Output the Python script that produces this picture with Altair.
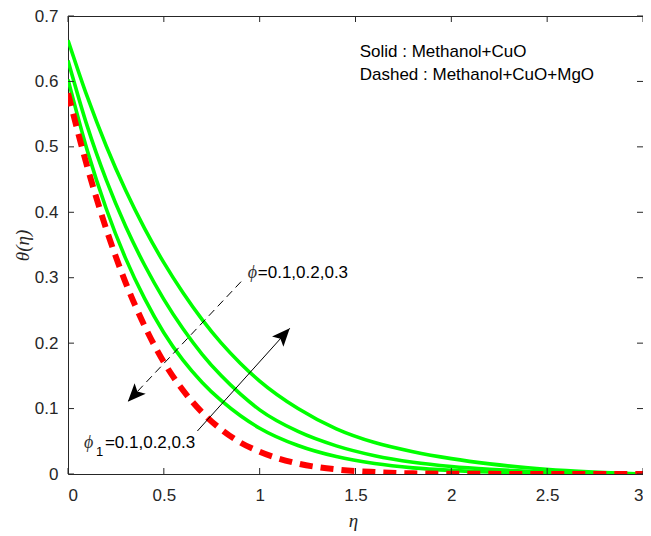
import math
import altair as alt
import pandas as pd

# ---------------- data ----------------
ETA = [0.0, 0.1, 0.2, 0.3, 0.4, 0.5, 0.6, 0.7, 0.8, 0.9, 1.0,
       1.2, 1.4, 1.6, 1.8, 2.0, 2.2, 2.4, 2.6, 2.8, 3.0]
# solid green curves (Methanol+CuO), phi1 = 0.1, 0.2, 0.3
G_TOP = [0.663, 0.577, 0.501, 0.434, 0.375, 0.323, 0.277, 0.236, 0.200, 0.169, 0.142,
         0.100, 0.069, 0.048, 0.034, 0.0235, 0.0155, 0.0095, 0.0052, 0.0022, 0.0]
G_MID = [0.632, 0.532, 0.449, 0.379, 0.319, 0.267, 0.222, 0.183, 0.150, 0.122, 0.098,
         0.065, 0.043, 0.028, 0.018, 0.0115, 0.0072, 0.0042, 0.0022, 0.0009, 0.0]
G_LOW = [0.603, 0.495, 0.405, 0.330, 0.268, 0.216, 0.174, 0.140, 0.112, 0.089, 0.070,
         0.0435, 0.0266, 0.016, 0.0094, 0.0055, 0.003, 0.0017, 0.0008, 0.0003, 0.0]
# dashed red curve (Methanol+CuO+MgO)
RED = [0.582, 0.470, 0.374, 0.293, 0.226, 0.171, 0.128, 0.094, 0.068, 0.048, 0.034,
       0.016, 0.007, 0.003, 0.001, 0.0004, 0.0002, 0.0001, 0.0, 0.0, 0.0]

X_TICKS = [0, 0.5, 1, 1.5, 2, 2.5, 3]
Y_TICKS = [0, 0.1, 0.2, 0.3, 0.4, 0.5, 0.6, 0.7]

# annotations (data coordinates)
LEGEND_TEXT = ["Solid : Methanol+CuO", "Dashed : Methanol+CuO+MgO"]
LEGEND_ETA = [1.522, 1.522]
LEGEND_THETA = [0.638, 0.602]

PHI_ETA, PHI_THETA = 0.938, 0.299        # "phi=0.1,0.2,0.3"
PHI1_ETA, PHI1_THETA = 0.083, 0.0393     # "phi_1=0.1,0.2,0.3"
VALUES_TEXT = "=0.1,0.2,0.3"

DASH_ARROW = [0.903, 0.294, 0.312, 0.1105]   # from (eta, theta) to (eta, theta)
SOLID_ARROW = [0.675, 0.0657, 1.157, 0.2227]

# ---------------- layout ----------------
W, H = 575, 458
X_MAX, Y_MAX = 3.0, 0.7
AX = "#262626"
SANS = "Liberation Sans, Arial, Helvetica, sans-serif"
SERIF = "Liberation Serif, Times New Roman, serif"

xs = alt.Scale(domain=[0, X_MAX], nice=False, zero=False)
ys = alt.Scale(domain=[0, Y_MAX], nice=False, zero=False)

x_axis = alt.Axis(values=X_TICKS, format="~g", title="η", domain=False, ticks=False,
                  tickSize=0, grid=False, labelPadding=13, labelFontSize=17,
                  labelFont=SANS, labelColor=AX, titleFont=SERIF, titleFontStyle="italic",
                  titleFontWeight="normal", titleFontSize=19, titleColor=AX,
                  titleX=285, titleY=46, titleBaseline="middle", titleAlign="center")
y_axis = alt.Axis(values=Y_TICKS, format="~g", title="θ(η)", domain=False, ticks=False,
                  tickSize=0, grid=False, labelPadding=10, labelFontSize=17,
                  labelFont=SANS, labelColor=AX, titleFont=SERIF, titleFontStyle="italic",
                  titleFontWeight="normal", titleFontSize=19, titleColor=AX,
                  titleX=-46, titleY=229, titleBaseline="middle", titleAlign="center",
                  titleAngle=270)


def X(field):
    return alt.X(field, scale=xs, axis=x_axis)


def Y(field):
    return alt.Y(field, scale=ys, axis=y_axis)


rows = []
for name, vals in [("a", G_TOP), ("b", G_MID), ("c", G_LOW)]:
    for e, v in zip(ETA, vals):
        rows.append({"eta": e, "theta": v, "curve": name})
green_df = pd.DataFrame(rows)
red_df = pd.DataFrame({"eta": ETA, "theta": RED})

green = alt.Chart(green_df).mark_line(
    color="#00FF00", strokeWidth=3.6, interpolate="monotone", clip=True
).encode(x=X("eta:Q"), y=Y("theta:Q"), detail="curve:N")

red = alt.Chart(red_df).mark_line(
    color="#FF0000", strokeWidth=6, strokeDash=[13, 8], strokeCap="butt",
    interpolate="monotone", clip=True
).encode(x=X("eta:Q"), y=Y("theta:Q"))

# inward tick marks on all four sides
xt = pd.DataFrame({"eta": X_TICKS})
yt = pd.DataFrame({"theta": Y_TICKS})
tick_style = dict(color=AX, strokeWidth=1)
xt_bottom = alt.Chart(xt).mark_rule(**tick_style).encode(
    x=X("eta:Q"), y=alt.value(H), y2=alt.value(H - 6))
xt_top = alt.Chart(xt).mark_rule(**tick_style).encode(
    x=X("eta:Q"), y=alt.value(0), y2=alt.value(6))
yt_left = alt.Chart(yt).mark_rule(**tick_style).encode(
    y=Y("theta:Q"), x=alt.value(0), x2=alt.value(6))
yt_right = alt.Chart(yt).mark_rule(**tick_style).encode(
    y=Y("theta:Q"), x=alt.value(W), x2=alt.value(W - 6))


# arrows
def arrow_df(a):
    x1, y1, x2, y2 = a
    pdx = (x2 - x1) * W / X_MAX
    pdy = -(y2 - y1) * H / Y_MAX
    ang = math.degrees(math.atan2(pdx, -pdy)) % 360
    return pd.DataFrame({"eta": [x1], "theta": [y1], "eta2": [x2], "theta2": [y2],
                         "ang": [ang]})


ARROW_PATH = "M0,0 L0.85,2 L0,1.55 L-0.85,2 Z"


def arrow(a, dash):
    df = arrow_df(a)
    kw = dict(color="black", strokeWidth=1)
    if dash:
        kw["strokeDash"] = [8, 5]
    line = alt.Chart(df).mark_rule(**kw).encode(
        x=X("eta:Q"), y=Y("theta:Q"), x2="eta2:Q", y2="theta2:Q")
    head = alt.Chart(df).mark_point(
        shape=ARROW_PATH, filled=True, color="black", size=324, opacity=1, strokeWidth=0
    ).encode(x=X("eta2:Q"), y=Y("theta2:Q"), angle=alt.Angle("ang:Q", scale=None))
    return line + head


# texts
leg_df = pd.DataFrame({"eta": LEGEND_ETA, "theta": LEGEND_THETA, "t": LEGEND_TEXT})
legend = alt.Chart(leg_df).mark_text(
    align="left", baseline="alphabetic", font=SANS, fontSize=17, color="black"
).encode(x=X("eta:Q"), y=Y("theta:Q"), text="t:N")


def phi_label(e, t, sub):
    df = pd.DataFrame({"eta": [e], "theta": [t], "phi": ["ϕ"], "sub": ["1"],
                       "val": [VALUES_TEXT]})
    phi = alt.Chart(df).mark_text(
        align="left", baseline="alphabetic", font=SERIF, fontStyle="italic",
        fontSize=18, color="#333333").encode(x=X("eta:Q"), y=Y("theta:Q"), text="phi:N")
    layers = [phi]
    if sub:
        layers.append(alt.Chart(df).mark_text(
            align="left", baseline="alphabetic", font=SANS, fontSize=13, color="black",
            dx=12, dy=8).encode(x=X("eta:Q"), y=Y("theta:Q"), text="sub:N"))
        dxv = 21
    else:
        dxv = 10
    layers.append(alt.Chart(df).mark_text(
        align="left", baseline="alphabetic", font=SANS, fontSize=17, color="black",
        dx=dxv).encode(x=X("eta:Q"), y=Y("theta:Q"), text="val:N"))
    return alt.layer(*layers)


chart = alt.layer(
    green, red,
    xt_bottom, xt_top, yt_left, yt_right,
    arrow(DASH_ARROW, True), arrow(SOLID_ARROW, False),
    legend,
    phi_label(PHI_ETA, PHI_THETA, False),
    phi_label(PHI1_ETA, PHI1_THETA, True),
).properties(
    width=W, height=H,
    padding={"left": 60, "top": 8, "right": 0, "bottom": 60},
    autosize=alt.AutoSizeParams(type="none"),
    background="white",
).configure_view(
    stroke=AX, strokeWidth=1
)

chart.save("out.html", embed_options={"renderer": "svg", "actions": False})
